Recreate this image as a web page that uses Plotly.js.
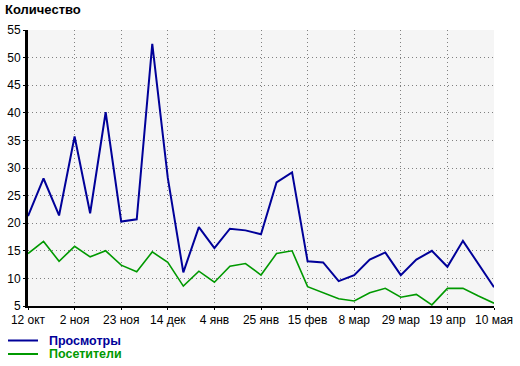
<!DOCTYPE html>
<html>
<head>
<meta charset="utf-8">
<script src="https://cdn.plot.ly/plotly-3.0.1.min.js"></script>
<style>html,body{margin:0;padding:0;background:#fff;}#chart{width:520px;height:366px;}</style>
</head>
<body>
<div id="chart"></div>
<script>
const weeks = ['2009-10-12','2009-10-19','2009-10-26','2009-11-02','2009-11-09','2009-11-16','2009-11-23','2009-11-30','2009-12-07','2009-12-14','2009-12-21','2009-12-28','2010-01-04','2010-01-11','2010-01-18','2010-01-25','2010-02-01','2010-02-08','2010-02-15','2010-02-22','2010-03-01','2010-03-08','2010-03-15','2010-03-22','2010-03-29','2010-04-05','2010-04-12','2010-04-19','2010-04-26','2010-05-03','2010-05-10'];
const views = [21.3,28.1,21.4,35.7,21.8,40.1,20.3,20.7,52.5,28.2,11.1,19.3,15.5,19.0,18.7,18.0,27.4,29.2,13.1,12.9,9.5,10.6,13.4,14.7,10.6,13.4,15.0,12.1,16.8,12.6,8.4];
const visitors = [14.5,16.7,13.1,15.8,13.9,15.0,12.4,11.2,14.8,12.9,8.6,11.3,9.3,12.2,12.7,10.6,14.5,15.0,8.5,7.4,6.3,5.9,7.4,8.2,6.6,7.1,5.2,8.2,8.2,6.8,5.5];
const tickDates = ['2009-10-12','2009-11-02','2009-11-23','2009-12-14','2010-01-04','2010-01-25','2010-02-15','2010-03-08','2010-03-29','2010-04-19','2010-05-10'];
const tickLabels = ['12 окт','2 ноя','23 ноя','14 дек','4 янв','25 янв','15 фев','8 мар','29 мар','19 апр','10 мая'];
const yTicks = [5,10,15,20,25,30,35,40,45,50,55];
const seriesNames = ['Просмотры','Посетители'];
const seriesColors = ['#000099','#009900'];

const font = 'Liberation Sans, Arial, sans-serif';
const traces = [
  {x: weeks, y: views, type:'scatter', mode:'lines', line:{color:seriesColors[0], width:2}, name:seriesNames[0]},
  {x: weeks, y: visitors, type:'scatter', mode:'lines', line:{color:seriesColors[1], width:1.6}, name:seriesNames[1]}
];

// manual legend (plot area: 28..494 px wide, 30..306 px tall)
const PW = 466, PH = 276;
const px = v => (v - 28) / PW;
const py = v => (306 - v) / PH;
const legendRows = [340.5, 354];
const shapes = [], annotations = [];
seriesNames.forEach((n, i) => {
  shapes.push({type:'line', xref:'paper', yref:'paper', x0:px(8), x1:px(38), y0:py(legendRows[i]), y1:py(legendRows[i]),
    line:{color:seriesColors[i], width:2}});
  annotations.push({xref:'paper', yref:'paper', x:px(48), y:py(legendRows[i]), xanchor:'left', yanchor:'middle', showarrow:false,
    borderpad:0, text:'<b>'+n+'</b>', font:{family:font, size:12.5, color:seriesColors[i]}});
});

const layout = {
  width:520, height:366,
  margin:{l:28, r:26, t:30, b:60, autoexpand:false},
  paper_bgcolor:'#ffffff', plot_bgcolor:'#f5f5f5',
  font:{family:font, size:12, color:'#000'},
  title:{text:'<b>Количество</b>', font:{family:font, size:13, color:'#000'}, x:0, xref:'container', xanchor:'left', y:1, yref:'container', yanchor:'top', pad:{t:5, l:5}},
  showlegend:false,
  shapes:shapes, annotations:annotations,
  xaxis:{type:'date', range:[weeks[0], weeks[weeks.length-1]], tickmode:'array', tickvals:tickDates, ticktext:tickLabels,
    showgrid:true, gridcolor:'#808080', griddash:'1px,3px', gridwidth:1, showline:true, linecolor:'#000', linewidth:2,
    ticks:'outside', ticklen:2, tickcolor:'#000', zeroline:false, tickfont:{size:12, family:font}, fixedrange:true},
  yaxis:{range:[5,55], tickmode:'array', tickvals:yTicks, showgrid:true, gridcolor:'#808080', griddash:'1px,3px', gridwidth:1,
    showline:true, linecolor:'#000', linewidth:3, ticks:'outside', ticklen:2, tickcolor:'#000', zeroline:false, tickfont:{size:12, family:font}, fixedrange:true}
};
Plotly.newPlot('chart', traces, layout, {displayModeBar:false, staticPlot:true});
</script>
</body>
</html>
